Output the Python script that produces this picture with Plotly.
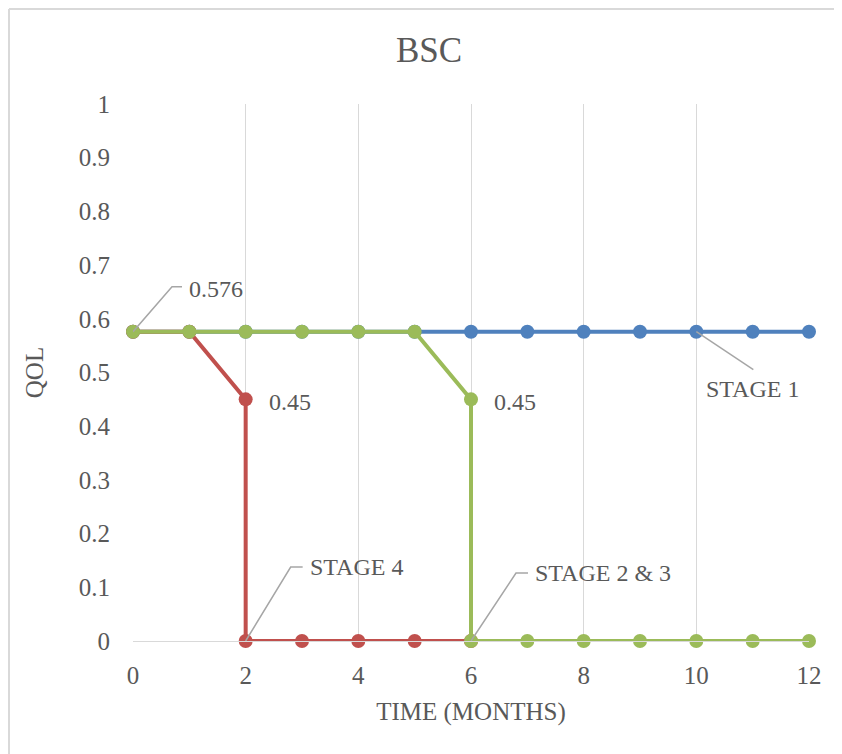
import plotly.graph_objects as go

# ---- data ----
stage1_x = [0, 1, 2, 3, 4, 5, 6, 7, 8, 9, 10, 11, 12]
stage1_y = [0.576, 0.576, 0.576, 0.576, 0.576, 0.576, 0.576, 0.576, 0.576, 0.576, 0.576, 0.576, 0.576]
stage4_x = [0, 1, 2, 2, 3, 4, 5, 6]
stage4_y = [0.576, 0.576, 0.45, 0, 0, 0, 0, 0]
stage23_x = [0, 1, 2, 3, 4, 5, 6, 6, 7, 8, 9, 10, 11, 12]
stage23_y = [0.576, 0.576, 0.576, 0.576, 0.576, 0.576, 0.45, 0, 0, 0, 0, 0, 0, 0]
x_ticks = [0, 2, 4, 6, 8, 10, 12]
y_ticks = [0, 0.1, 0.2, 0.3, 0.4, 0.5, 0.6, 0.7, 0.8, 0.9, 1]
y_tick_labels = ["0", "0.1", "0.2", "0.3", "0.4", "0.5", "0.6", "0.7", "0.8", "0.9", "1"]

BLUE = "#4F81BD"
RED = "#C0504D"
GREEN = "#9BBB59"
TXT = "#595959"
GRID = "#D9D9D9"
FONT = "Liberation Serif"

OFF = 8  # page body margin
W, H = 834, 746
L, T = 125, 96
PW, PH = 676, 537
R = W - L - PW
B = H - T - PH

def px(xp):
    return (xp - OFF - L) / PW

def py(yp):
    return (H - B - (yp - OFF)) / PH

fig = go.Figure()
for xs, ys, c in [(stage1_x, stage1_y, BLUE), (stage4_x, stage4_y, RED), (stage23_x, stage23_y, GREEN)]:
    fig.add_trace(go.Scatter(x=xs, y=ys, mode="lines+markers",
                             line=dict(color=c, width=4),
                             marker=dict(color=c, size=14),
                             cliponaxis=False, showlegend=False, hoverinfo="x+y"))

annotations = []
shapes = []
LBL = 24

def leader(x, y, path, text, tx, ty, xanchor="left"):
    shapes.append(dict(type="path", xref="x", yref="y", xsizemode="pixel", ysizemode="pixel",
                       xanchor=x, yanchor=y, path=path,
                       line=dict(color="#A6A6A6", width=1.5), layer="above"))
    annotations.append(dict(x=x, y=y, xref="x", yref="y", text=text, showarrow=False,
                            xshift=tx, yshift=ty, xanchor=xanchor, yanchor="middle",
                            font=dict(family=FONT, size=LBL, color=TXT)))

leader(stage23_x[0], stage23_y[0], "M0,0 L39,45 L49,45", "0.576", 54, 43)
leader(stage4_x[3], stage4_y[3], "M0,0 L45,74 L57,74", "STAGE 4", 62, 74)
leader(stage23_x[7], stage23_y[7], "M0,0 L45,68 L57,68", "STAGE 2 &amp; 3", 62, 68)
leader(stage1_x[10], stage1_y[10], "M0,0 L57,-38", "STAGE 1", 56, -57, xanchor="center")

for xv, yv in [(stage4_x[2], stage4_y[2]), (stage23_x[6], stage23_y[6])]:
    annotations.append(dict(x=xv, y=yv, xref="x", yref="y", text="0.45", showarrow=False,
                            xshift=21, yshift=-3, xanchor="left", yanchor="middle",
                            font=dict(family=FONT, size=LBL, color=TXT)))

# outer chart border: only top and left edges are visible in the view
shapes.append(dict(type="line", xref="paper", yref="paper",
                   x0=px(OFF + 1), x1=px(OFF + 1), y0=py(OFF + 1), y1=py(760),
                   line=dict(color=GRID, width=2), layer="below"))
shapes.append(dict(type="line", xref="paper", yref="paper",
                   x0=px(OFF + 1), x1=px(OFF + W), y0=py(OFF + 1), y1=py(OFF + 1),
                   line=dict(color=GRID, width=2), layer="below"))

fig.update_layout(
    width=W, height=H,
    margin=dict(l=L, r=R, t=T, b=B),
    paper_bgcolor="white", plot_bgcolor="white",
    title=dict(text="BSC", x=px(429), xref="paper", xanchor="center",
               y=1 - (50 - OFF) / H, yanchor="middle",
               font=dict(family=FONT, size=35, color=TXT)),
    font=dict(family=FONT, color=TXT),
    annotations=annotations,
    shapes=shapes,
)

fig.update_xaxes(range=[0, 12], tickvals=x_ticks, showgrid=True, gridcolor=GRID, gridwidth=1.3,
                 zeroline=False, showline=True, linecolor=GRID, linewidth=1.3,
                 ticks="outside", ticklen=12, tickcolor="rgba(0,0,0,0)",
                 tickfont=dict(family=FONT, size=25, color=TXT),
                 title=dict(text="TIME (MONTHS)", font=dict(family=FONT, size=25, color=TXT), standoff=14))
fig.update_yaxes(range=[0, 1], tickvals=y_ticks, ticktext=y_tick_labels, showgrid=False,
                 zeroline=False, showline=False,
                 ticks="outside", ticklen=17, tickcolor="rgba(0,0,0,0)",
                 tickfont=dict(family=FONT, size=25, color=TXT),
                 title=dict(text="QOL", font=dict(family=FONT, size=25, color=TXT), standoff=28))

fig.write_html("out.html")
